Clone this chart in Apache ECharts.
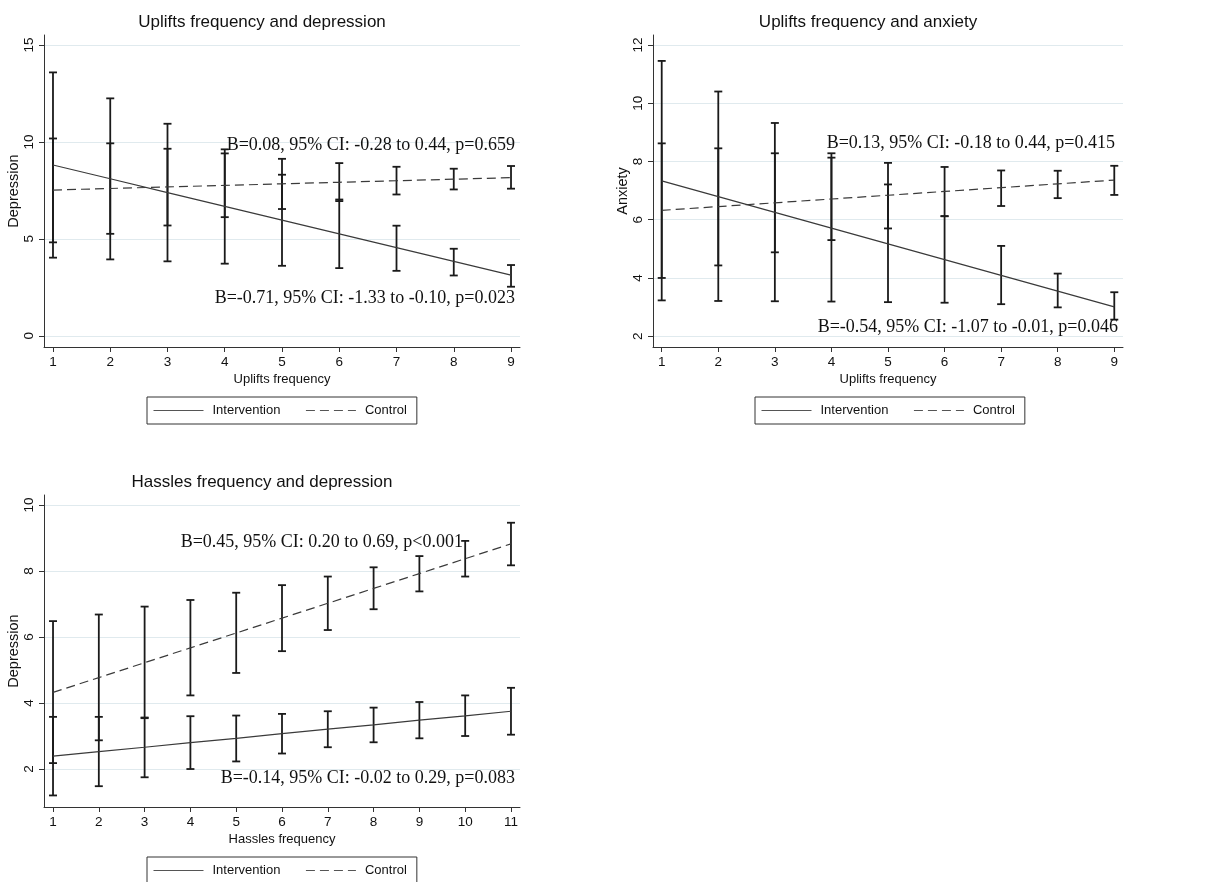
<!DOCTYPE html>
<html>
<head>
<meta charset="utf-8">
<script src="https://cdn.jsdelivr.net/npm/echarts@6/dist/echarts.min.js"></script>
<style>
html,body{margin:0;padding:0;background:#fff;}
#chart{width:1208px;height:882px;}
</style>
</head>
<body>
<div id="chart"></div>
<script>
// ---------- data ----------
const titles = ['Uplifts frequency and depression', 'Uplifts frequency and anxiety', 'Hassles frequency and depression'];
const xNames = ['Uplifts frequency', 'Uplifts frequency', 'Hassles frequency'];
const yNames = ['Depression', 'Anxiety', 'Depression'];
const seriesNames = ['Intervention', 'Control'];

const x1 = [1, 2, 3, 4, 5, 6, 7, 8, 9];
const p1IntFit = [8.81, 8.10, 7.39, 6.68, 5.97, 5.26, 4.55, 3.84, 3.13];
const p1CtlFit = [7.52, 7.60, 7.68, 7.76, 7.84, 7.92, 8.00, 8.08, 8.16];
const p1IntLo = [4.03, 3.94, 3.84, 3.72, 3.61, 3.49, 3.35, 3.11, 2.53];
const p1IntHi = [13.59, 12.25, 10.94, 9.62, 8.31, 7.03, 5.68, 4.49, 3.65];
const p1CtlLo = [4.82, 5.26, 5.69, 6.12, 6.54, 6.95, 7.29, 7.55, 7.59];
const p1CtlHi = [10.18, 9.93, 9.65, 9.41, 9.13, 8.91, 8.72, 8.62, 8.76];
const p1Ticks = [0, 5, 10, 15];

const x2 = [1, 2, 3, 4, 5, 6, 7, 8, 9];
const p2IntFit = [7.33, 6.79, 6.25, 5.71, 5.17, 4.63, 4.09, 3.55, 3.01];
const p2CtlFit = [6.32, 6.45, 6.58, 6.71, 6.84, 6.97, 7.10, 7.23, 7.36];
const p2IntLo = [3.23, 3.21, 3.20, 3.19, 3.17, 3.15, 3.10, 2.99, 2.57];
const p2IntHi = [11.45, 10.40, 9.32, 8.28, 7.21, 6.12, 5.10, 4.15, 3.51];
const p2CtlLo = [4.00, 4.43, 4.88, 5.30, 5.70, 6.12, 6.47, 6.74, 6.85];
const p2CtlHi = [8.62, 8.45, 8.28, 8.13, 7.95, 7.81, 7.69, 7.68, 7.85];
const p2Ticks = [2, 4, 6, 8, 10, 12];

const x3 = [1, 2, 3, 4, 5, 6, 7, 8, 9, 10, 11];
const p3IntFit = [2.39, 2.53, 2.66, 2.80, 2.93, 3.07, 3.21, 3.34, 3.48, 3.61, 3.75];
const p3CtlFit = [4.32, 4.77, 5.22, 5.67, 6.12, 6.57, 7.02, 7.47, 7.92, 8.37, 8.82];
const p3IntLo = [1.20, 1.48, 1.75, 2.00, 2.23, 2.47, 2.66, 2.81, 2.93, 3.00, 3.04];
const p3IntHi = [3.58, 3.58, 3.56, 3.60, 3.62, 3.67, 3.75, 3.86, 4.03, 4.23, 4.46];
const p3CtlLo = [2.18, 2.87, 3.54, 4.23, 4.91, 5.57, 6.21, 6.84, 7.38, 7.83, 8.17];
const p3CtlHi = [6.48, 6.68, 6.92, 7.12, 7.34, 7.57, 7.83, 8.11, 8.45, 8.91, 9.46];
const p3Ticks = [2, 4, 6, 8, 10];

const notes = [
  ['B=0.08, 95% CI: -0.28 to 0.44, p=0.659', 'B=-0.71, 95% CI: -1.33 to -0.10, p=0.023'],
  ['B=0.13, 95% CI: -0.18 to 0.44, p=0.415', 'B=-0.54, 95% CI: -1.07 to -0.01, p=0.046'],
  ['B=0.45, 95% CI: 0.20 to 0.69, p<0.001', 'B=-0.14, 95% CI: -0.02 to 0.29, p=0.083']
];

// ---------- layout ----------
const SANS = "'Liberation Sans', Arial, sans-serif";
const SERIF = "'Liberation Serif', 'Times New Roman', serif";
const AXIS = '#333';
const GRIDC = '#e0eaee';

const panels = [
  {x: x1, fit: [p1IntFit, p1CtlFit], lo: [p1IntLo, p1CtlLo], hi: [p1IntHi, p1CtlHi], ticks: p1Ticks,
   grid: {left: 44, top: 35, width: 476, height: 312}, xr: [0.843, 9.157], yr: [-0.58, 15.52],
   title: [262, 22], notePos: [[515, 145], [515, 298]], legend: [147, 397]},
  {x: x2, fit: [p2IntFit, p2CtlFit], lo: [p2IntLo, p2CtlLo], hi: [p2IntHi, p2CtlHi], ticks: p2Ticks,
   grid: {left: 653, top: 35, width: 470, height: 312}, xr: [0.846, 9.154], yr: [1.63, 12.34],
   title: [868, 22], notePos: [[1115, 143], [1118, 327]], legend: [755, 397]},
  {x: x3, fit: [p3IntFit, p3CtlFit], lo: [p3IntLo, p3CtlLo], hi: [p3IntHi, p3CtlHi], ticks: p3Ticks,
   grid: {left: 44, top: 495, width: 476, height: 312}, xr: [0.803, 11.197], yr: [0.85, 10.3],
   title: [262, 482], notePos: [[463, 542], [515, 778]], legend: [147, 857]}
];

const grids = [], xAxes = [], yAxes = [], series = [], legends = [], graphics = [];

function errRender(params, api) {
  const x = api.value(0);
  const p1 = api.coord([x, api.value(1)]);
  const p2 = api.coord([x, api.value(2)]);
  const w = 4;
  const st = {stroke: '#1a1a1a', lineWidth: 1.8};
  return {
    type: 'group',
    children: [
      {type: 'line', shape: {x1: p1[0], y1: p1[1], x2: p2[0], y2: p2[1]}, style: st},
      {type: 'line', shape: {x1: p1[0] - w, y1: p1[1], x2: p1[0] + w, y2: p1[1]}, style: st},
      {type: 'line', shape: {x1: p2[0] - w, y1: p2[1], x2: p2[0] + w, y2: p2[1]}, style: st}
    ]
  };
}

panels.forEach((p, i) => {
  grids.push(Object.assign({containLabel: false}, p.grid));
  xAxes.push({
    type: 'value', gridIndex: i, min: p.xr[0], max: p.xr[1],
    name: xNames[i], nameLocation: 'middle', nameGap: 26,
    nameTextStyle: {fontFamily: SANS, fontSize: 13, color: '#111'},
    axisLine: {show: true, onZero: false, lineStyle: {color: AXIS, width: 1}},
    axisTick: {show: true, length: 5, customValues: p.x, lineStyle: {color: AXIS}},
    axisLabel: {customValues: p.x, margin: 8, fontFamily: SANS, fontSize: 13.5, color: '#111'},
    splitLine: {show: false}
  });
  yAxes.push({
    type: 'value', gridIndex: i, min: p.yr[0], max: p.yr[1],
    name: yNames[i], nameLocation: 'middle', nameGap: 23, nameRotate: 90,
    nameTextStyle: {fontFamily: SANS, fontSize: 14.5, color: '#111'},
    axisLine: {show: true, onZero: false, lineStyle: {color: AXIS, width: 1}},
    axisTick: {show: true, length: 5, customValues: p.ticks, lineStyle: {color: AXIS}},
    axisLabel: {customValues: p.ticks, rotate: 90, margin: 8, fontFamily: SANS, fontSize: 13.5, color: '#111'},
    splitLine: {show: true, lineStyle: {color: GRIDC, width: 1.2}}
  });
  [0, 1].forEach(g => {
    series.push({
      type: 'custom', name: seriesNames[g] + ' CI', xAxisIndex: i, yAxisIndex: i,
      renderItem: errRender, encode: {x: 0, y: [1, 2]},
      data: p.x.map((xv, k) => [xv, p.lo[g][k], p.hi[g][k]]), z: 3
    });
  });
  [0, 1].forEach(g => {
    series.push({
      type: 'line', name: seriesNames[g], xAxisIndex: i, yAxisIndex: i,
      symbol: 'none', showSymbol: false, animation: false,
      lineStyle: {color: '#3a3a3a', width: 1.2, type: g === 0 ? 'solid' : [9, 5]},
      itemStyle: {color: '#3a3a3a'},
      data: p.x.map((xv, k) => [xv, p.fit[g][k]]), z: 4
    });
  });
  legends.push({
    data: seriesNames, left: p.legend[0], top: p.legend[1], orient: 'horizontal',
    itemWidth: 50, itemHeight: 14, itemGap: 25,
    padding: [7, 10, 7, 6], borderColor: '#333', borderWidth: 1, backgroundColor: '#fff',
    itemStyle: {opacity: 0},
    lineStyle: {width: 1, color: '#555'},
    textStyle: {fontFamily: SANS, fontSize: 13, color: '#111', padding: [0, 0, 0, 4]},
    selectedMode: false
  });
  graphics.push({
    type: 'text', x: p.title[0], y: p.title[1],
    style: {text: titles[i], font: '17px ' + SANS, fill: '#111', textAlign: 'center', textVerticalAlign: 'middle'}
  });
  notes[i].forEach((t, k) => {
    graphics.push({
      type: 'text', x: p.notePos[k][0], y: p.notePos[k][1], z: 10,
      style: {text: t, font: '18px ' + SERIF, fill: '#111', textAlign: 'right', textVerticalAlign: 'middle'}
    });
  });
});

const chart = echarts.init(document.getElementById('chart'), null, {renderer: 'canvas'});
chart.setOption({
  backgroundColor: '#fff',
  animation: false,
  grid: grids, xAxis: xAxes, yAxis: yAxes, series: series, legend: legends,
  graphic: graphics
});
</script>
</body>
</html>
